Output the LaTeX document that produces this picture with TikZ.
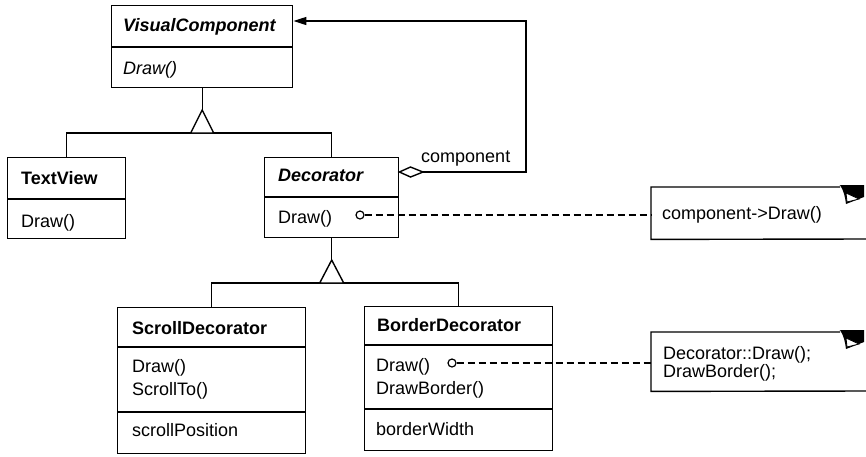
\documentclass[tikz,border=0pt]{standalone}
\usepackage{fontspec}
\setmainfont{Liberation Sans}
\usetikzlibrary{arrows.meta}
\begin{document}
\begin{tikzpicture}[x=1pt,y=-1pt,
  box/.style={draw,line width=1.4pt,anchor=north west,inner sep=0pt},
  lbl/.style={anchor=base west,inner sep=0pt,font=\fontsize{18}{19}\selectfont},
  conn/.style={line width=1.4pt},
  dep/.style={line width=1.4pt,dash pattern=on 7pt off 4pt},
  pin/.style={circle,draw,line width=1.2pt,fill=white,inner sep=0pt,minimum size=8pt},
  gen/.style={line width=1.4pt,fill=white},
  fold/.pic={
    \fill[black] (-1,-2) -- (0,-2) .. controls (4,4) and (5,10) .. (6,17) -- (24,10) -- (24,-2) -- cycle;
    \filldraw[fill=white,draw=black,line width=0.8pt] (6,6) -- (19,12) -- (7,15) -- cycle;
  },
]
\useasboundingbox (0,0) rectangle (866,456);

% ---------- VisualComponent ----------
\node[box,minimum width=181pt,minimum height=82pt] (vc) at (111,5) {};
\draw[conn] (111,47) -- (292,47);
\node[lbl] (vcn) at (123,31) {\bfseries\itshape VisualComponent};
\node[lbl] (vcd) at (123,74) {\itshape Draw()};

% ---------- TextView ----------
\node[box,minimum width=118pt,minimum height=81pt] (tv) at (7,157) {};
\draw[conn] (7,199) -- (125,199);
\node[lbl] (tvn) at (21,184) {\bfseries TextView};
\node[lbl] (tvd) at (21,227) {Draw()};

% ---------- Decorator ----------
\node[box,minimum width=134pt,minimum height=80pt] (dec) at (264,157) {};
\draw[conn] (264,197) -- (398,197);
\node[lbl] (decn) at (278,181) {\bfseries\itshape Decorator};
\node[lbl] (decd) at (278,223) {Draw()};

% ---------- ScrollDecorator ----------
\node[box,minimum width=188pt,minimum height=146pt] (sd) at (117,307) {};
\draw[conn] (117,347) -- (305,347);
\draw[conn] (117,412) -- (305,412);
\node[lbl] (sdn) at (132,334) {\bfseries ScrollDecorator};
\node[lbl] (sdd) at (132,372) {Draw()};
\node[lbl] (sds) at (132,395) {ScrollTo()};
\node[lbl] (sdp) at (132,436) {scrollPosition};

% ---------- BorderDecorator ----------
\node[box,minimum width=188pt,minimum height=144pt] (bd) at (364,306) {};
\draw[conn] (364,345) -- (552,345);
\draw[conn] (364,409) -- (552,409);
\node[lbl] (bdn) at (377,331) {\bfseries BorderDecorator};
\node[lbl] (bdd) at (376,371) {Draw()};
\node[lbl] (bdb) at (376,394) {DrawBorder()};
\node[lbl] (bdw) at (376,435) {borderWidth};

% ---------- inheritance 1 ----------
\coordinate (apex1) at (vc.south |- 0,110);
\coordinate (bar1) at (vc.south |- 0,133);
\draw[conn] (vc.south) -- (apex1);
\draw[conn] (tv.north) -- (tv.north |- bar1) -- (dec.north |- bar1) -- (dec.north);
\filldraw[gen] (apex1) -- ([xshift=-11.5pt]bar1) -- ([xshift=11.5pt]bar1) -- cycle;

% ---------- inheritance 2 ----------
\coordinate (apex2) at (dec.south |- 0,260);
\coordinate (bar2) at (dec.south |- 0,283);
\draw[conn] (dec.south) -- (apex2);
\draw[conn] (sd.north) -- (sd.north |- bar2) -- (bd.north |- bar2) -- (bd.north);
\filldraw[gen] (apex2) -- ([xshift=-12pt]bar2) -- ([xshift=12pt]bar2) -- cycle;

% ---------- aggregation ----------
\coordinate (aggW) at (dec.east |- 0,172);
\coordinate (aggE) at (423,172);
\coordinate (turn) at (526,172);
\coordinate (vcin) at (vc.east |- 0,21);
\draw[conn,-{Triangle[length=13pt,width=8pt]}] (aggE) -- (turn) |- (vcin);
\filldraw[conn,fill=white] (aggW) -- (410.5,167) -- (aggE) -- (410.5,177) -- cycle;
\node[lbl] (comp) at (421,162) {component};

% ---------- notes ----------
\node[anchor=north west,inner sep=0pt,minimum width=215pt,minimum height=52pt] (n1) at (651,187) {};
\draw[conn] (840,187) -- (n1.north west) -- (n1.south west) -- (866,239);
\pic at (840,187) {fold};
\node[lbl] (n1t) at (662,219) {component->Draw()};

\node[anchor=north west,inner sep=0pt,minimum width=215pt,minimum height=59pt] (n2) at (651,332) {};
\draw[conn] (840,332) -- (n2.north west) -- (n2.south west) -- (866,391);
\pic at (840,332) {fold};
\node[lbl,align=left,anchor=north west,font=\fontsize{18}{16}\selectfont] (n2t) at (663,346) {Decorator::Draw();\\DrawBorder();};

% ---------- dependencies ----------
\node[pin] (p1) at (360,215) {};
\draw[dep] (p1.east) -- (p1 -| n1.west);
\node[pin] (p2) at (452,363) {};
\draw[dep] (p2.east) -- (p2 -| n2.west);
\end{tikzpicture}
\end{document}
